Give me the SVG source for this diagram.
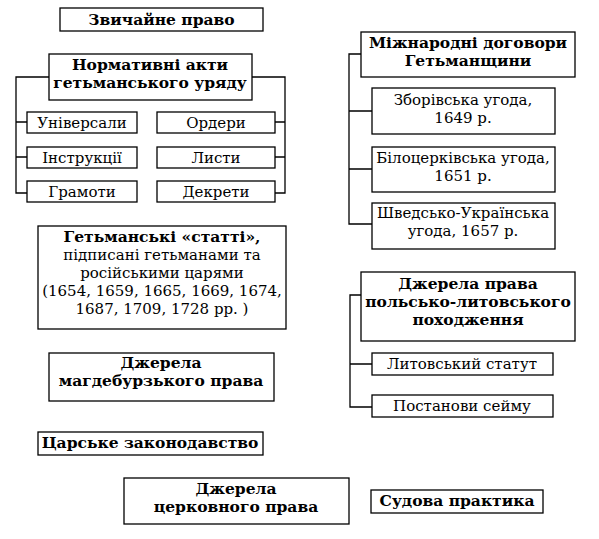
<svg xmlns="http://www.w3.org/2000/svg" width="599" height="539" viewBox="0 0 599 539">
<style>
rect{fill:#fff;stroke:#000;stroke-width:1.3}
.c path{fill:none;stroke:#000;stroke-width:1.3}
text{font-family:"DejaVu Serif","Liberation Serif",serif;fill:#000;text-anchor:middle;font-size:15px}
.b{font-weight:bold;font-size:15.5px}
</style>
<rect x="0" y="0" width="599" height="539" style="stroke:none"/>
<g class="c" id="connectors">
<path d="M49,77H16V193H27M16,122H27M16,157H27"/>
<path d="M252,77H285V193H275M285,122H275M285,157H275"/>
<path d="M361,54H349V224H372M349,111H372M349,169H372"/>
<path d="M361,295H350V407H372M350,364H372"/>
</g>
<g id="n1"><rect x="60" y="8" width="203" height="23"/><text class="b" x="161.5" y="25">Звичайне право</text></g>
<g id="n2"><rect x="49" y="54" width="203" height="46"/><text class="b" x="150" y="70">Нормативні акти</text><text class="b" x="150" y="88">гетьманського уряду</text></g>
<g id="n3"><rect x="27" y="112" width="110" height="21"/><text x="82" y="128">Універсали</text></g>
<g id="n4"><rect x="157" y="112" width="118" height="21"/><text x="216" y="128">Ордери</text></g>
<g id="n5"><rect x="27" y="147" width="110" height="21"/><text x="82" y="163">Інструкції</text></g>
<g id="n6"><rect x="157" y="147" width="118" height="21"/><text x="216" y="163">Листи</text></g>
<g id="n7"><rect x="27" y="181" width="110" height="21"/><text x="82" y="197">Грамоти</text></g>
<g id="n8"><rect x="157" y="181" width="118" height="21"/><text x="216" y="197">Декрети</text></g>
<g id="n9"><rect x="38" y="226" width="248" height="103"/>
<text class="b" x="162" y="242">Гетьманські «статті»,</text>
<text x="162" y="260">підписані гетьманами та</text>
<text x="162" y="278">російськими царями</text>
<text x="162" y="296">(1654, 1659, 1665, 1669, 1674,</text>
<text x="162" y="314">1687, 1709, 1728 рр. )</text></g>
<g id="n10"><rect x="49" y="353" width="225" height="48"/><text class="b" x="161" y="368">Джерела</text><text class="b" x="161" y="386">магдебурзького права</text></g>
<g id="n11"><rect x="38" y="432" width="225" height="23"/><text class="b" x="150" y="448">Царське законодавство</text></g>
<g id="n12"><rect x="124" y="478" width="225" height="46"/><text class="b" x="236" y="494">Джерела</text><text class="b" x="236" y="512">церковного права</text></g>
<g id="n13"><rect x="371" y="490" width="172" height="23"/><text class="b" x="457" y="506">Судова практика</text></g>
<g id="n14"><rect x="361" y="32" width="214" height="45"/><text class="b" x="468" y="48">Міжнародні договори</text><text class="b" x="468" y="66">Гетьманщини</text></g>
<g id="n15"><rect x="372" y="88" width="183" height="46"/><text x="463" y="105">Зборівська угода,</text><text x="463" y="123">1649 р.</text></g>
<g id="n16"><rect x="372" y="147" width="183" height="45"/><text x="463" y="163">Білоцерківська угода,</text><text x="463" y="181">1651 р.</text></g>
<g id="n17"><rect x="372" y="203" width="183" height="46"/><text x="463" y="218">Шведсько-Українська</text><text x="463" y="236">угода, 1657 р.</text></g>
<g id="n18"><rect x="361" y="272" width="214" height="69"/><text class="b" x="468" y="289">Джерела права</text><text class="b" x="468" y="307">польсько-литовського</text><text class="b" x="468" y="325">походження</text></g>
<g id="n19"><rect x="372" y="353" width="181" height="22"/><text x="462" y="369">Литовський статут</text></g>
<g id="n20"><rect x="372" y="395" width="181" height="22"/><text x="462" y="411">Постанови сейму</text></g>
</svg>
